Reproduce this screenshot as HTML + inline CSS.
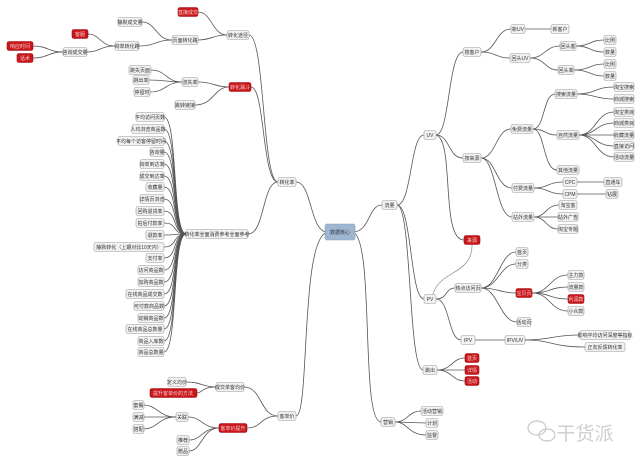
<!DOCTYPE html>
<html><head><meta charset="utf-8"><style>
html,body{margin:0;padding:0;background:#fff;}
svg{display:block;font-family:"Liberation Sans","Noto Sans CJK SC",sans-serif;}
.e path{fill:none;stroke:#555;stroke-width:0.8}
.n rect{fill:#f2f2f2;stroke:#9a9a9a;stroke-width:0.6}
.r rect{fill:#c9161b;stroke:#a01014;stroke-width:0.6}
text{font-size:5px;text-anchor:middle;fill:#333}
.r text{fill:#f5d0d0}
</style></head><body>
<svg width="640" height="464" viewBox="0 0 640 464" xmlns="http://www.w3.org/2000/svg">
<g class="e">
<!-- center -->
<path d="M327 232 C310 232 312 182 296 182"/>
<path d="M327 232 C300 240 310 416 296 416"/>
<path d="M353 232 C370 232 368 205 382 205"/>
<path d="M353 232 C375 240 360 422 381 422"/>
<!-- 转化率 -->
<path d="M278 182 C262 182 265 35 249 35"/>
<path d="M278 182 C262 182 265 87 251 87"/>
<path d="M278 182 C262 182 265 234 248 234"/>
<path d="M227 35 C212 35 212 12 198 12"/>
<path d="M227 35 C212 35 212 40 198 40"/>
<path d="M172 40 C156 40 156 22 142 22"/>
<path d="M172 40 C156 40 156 46 139 46"/>
<path d="M115 46 C100 46 100 34 88 34"/>
<path d="M115 46 C100 46 100 52 87 52"/>
<path d="M63 52 C48 52 48 46 33 46"/>
<path d="M63 52 C48 52 48 58 33 58"/>
<path d="M229 87 C214 87 214 82 198 82"/>
<path d="M229 87 C214 87 214 105 195 105"/>
<path d="M182 82 C166 82 166 70 151 70"/>
<path d="M182 82 C166 82 166 80 149 80"/>
<path d="M182 82 C166 82 166 92 150 92"/>
<path d="M186 234 C172 234 178 117 164 117"/><path d="M186 234 C172 234 178 129 164 129"/><path d="M186 234 C172 234 178 141 164 141"/><path d="M186 234 C172 234 178 152 164 152"/><path d="M186 234 C172 234 178 164 164 164"/><path d="M186 234 C172 234 178 176 164 176"/><path d="M186 234 C172 234 178 187 164 187"/><path d="M186 234 C172 234 178 199 164 199"/><path d="M186 234 C172 234 178 211 164 211"/><path d="M186 234 C172 234 178 223 164 223"/><path d="M186 234 C172 234 178 235 164 235"/><path d="M186 234 C172 234 178 247 164 247"/><path d="M186 234 C172 234 178 258 164 258"/><path d="M186 234 C172 234 178 270 164 270"/><path d="M186 234 C172 234 178 282 164 282"/><path d="M186 234 C172 234 178 294 164 294"/><path d="M186 234 C172 234 178 306 164 306"/><path d="M186 234 C172 234 178 318 164 318"/><path d="M186 234 C172 234 178 329 164 329"/><path d="M186 234 C172 234 178 341 164 341"/><path d="M186 234 C172 234 178 352 164 352"/>
<!-- 客单价 -->
<path d="M278 416 C260 416 262 387 244 387"/>
<path d="M278 416 C260 416 262 428 247 428"/>
<path d="M216 387 C202 387 202 382 186 382"/>
<path d="M216 387 C202 387 202 393 197 393"/>
<path d="M219 428 C202 428 202 417 188 417"/>
<path d="M219 428 C202 428 202 440 189 440"/>
<path d="M219 428 C202 428 202 451 189 451"/>
<path d="M176 417 C158 417 158 405 143 405"/>
<path d="M176 417 C158 417 158 417 143 417"/>
<path d="M176 417 C158 417 158 429 143 429"/>
<!-- 流量 -->
<path d="M397 205 C412 205 410 135 424 135"/>
<path d="M397 205 C412 205 410 299 424 299"/>
<path d="M397 205 C412 205 408 370 423 370"/>
<path d="M436 135 C450 135 448 52 463 52"/>
<path d="M436 135 C450 135 448 158 463 158"/>
<path d="M436 135 C455 140 440 240 464 240"/>
<path d="M472 245 C472 275 440 270 433 294" style="stroke:#999"/>
<path d="M481 52 C496 52 496 29 511 29"/>
<path d="M481 52 C496 52 496 58 510 58"/>
<path d="M525 29 L551 29"/>
<path d="M530 58 C545 58 545 46 560 46"/>
<path d="M530 58 C545 58 545 70 558 70"/>
<path d="M576 46 C590 46 590 40 604 40"/><path d="M576 46 C590 46 590 52 604 52"/>
<path d="M574 70 C590 70 590 64 604 64"/><path d="M574 70 C590 70 590 76 604 76"/>
<path d="M481 158 C496 158 496 129 511 129"/>
<path d="M481 158 C496 158 496 188 512 188"/>
<path d="M481 158 C496 158 496 217 512 217"/>
<path d="M533 129 C545 129 543 94 555 94"/>
<path d="M533 129 C545 129 545 135 557 135"/>
<path d="M533 129 C545 129 543 170 557 170"/>
<path d="M577 94 C595 94 595 87 614 87"/><path d="M577 94 C595 94 595 99 614 99"/>
<path d="M579 135 C596 135 596 112 614 112"/><path d="M579 135 C596 135 596 123 614 123"/><path d="M579 135 L614 135"/><path d="M579 135 C596 135 596 146 614 146"/><path d="M579 135 C596 135 596 157 614 157"/>
<path d="M534 188 C548 188 548 182 563 182"/><path d="M534 188 C548 188 548 194 563 194"/>
<path d="M577 182 L604 182"/><path d="M577 194 L606 194"/>
<path d="M534 217 C546 217 546 205 559 205"/><path d="M534 217 L558 217"/><path d="M534 217 C546 217 546 229 558 229"/>
<path d="M436 299 C448 299 445 288 455 288"/>
<path d="M436 299 C450 299 448 340 461 340"/>
<path d="M481 288 C498 288 500 252 516 252"/>
<path d="M481 288 C498 288 500 264 516 264"/>
<path d="M481 288 C498 288 500 293 516 293"/>
<path d="M481 288 C498 288 500 322 517 322"/>
<path d="M532 293 C550 293 550 275 568 275"/><path d="M532 293 C550 293 550 287 568 287"/><path d="M532 293 C550 293 550 299 568 299"/><path d="M532 293 C550 293 550 311 568 311"/>
<path d="M475 340 L505 340"/>
<path d="M525 340 C552 340 552 335 580 335"/><path d="M525 340 C552 340 552 347 585 347"/>
<path d="M437 370 C452 370 452 358 465 358"/><path d="M437 370 L465 370"/><path d="M437 370 C452 370 452 381 465 381"/>
<!-- 营销 -->
<path d="M395 422 C408 422 408 411 421 411"/><path d="M395 422 L426 423"/><path d="M395 422 C408 422 408 435 426 435"/>
</g>

<!-- center -->
<rect x="325" y="224" width="30" height="16" rx="2" fill="#9fb6d3" stroke="#8aa2c2" stroke-width="0.6"/>
<text x="340" y="234">数据核心</text>

<g class="n"><rect x="278" y="177.5" width="18" height="9" rx="2"/><text x="287" y="184">转化率</text></g>
<g class="n"><rect x="227" y="30.5" width="22" height="9" rx="2"/><text x="238" y="37">转化途径</text></g>
<g class="r"><rect x="178" y="7.5" width="20" height="9" rx="2"/><text x="188" y="14">直接成交</text></g>
<g class="n"><rect x="172" y="35.5" width="26" height="9" rx="2"/><text x="185" y="42">页面转化路</text></g>
<g class="n"><rect x="118" y="17.5" width="24" height="9" rx="2"/><text x="130" y="24">静默成交量</text></g>
<g class="n"><rect x="115" y="41.5" width="24" height="9" rx="2"/><text x="127" y="48">询单转化路</text></g>
<g class="r"><rect x="72" y="29.5" width="16" height="9" rx="2"/><text x="80" y="36">客服</text></g>
<g class="n"><rect x="63" y="47.5" width="24" height="9" rx="2"/><text x="75" y="54">咨询成交量</text></g>
<g class="r"><rect x="7" y="41.5" width="26" height="9" rx="2"/><text x="20" y="48">响应时间</text></g>
<g class="r"><rect x="17" y="53.5" width="16" height="9" rx="2"/><text x="25" y="60">话术</text></g>
<g class="r"><rect x="229" y="82.5" width="22" height="9" rx="2"/><text x="240" y="89">转化漏斗</text></g>
<g class="n"><rect x="182" y="77.5" width="16" height="9" rx="2"/><text x="190" y="84">流失率</text></g>
<g class="n"><rect x="129" y="65.5" width="22" height="9" rx="2"/><text x="140" y="72">跳失页面</text></g>
<g class="n"><rect x="133" y="75.5" width="16" height="9" rx="2"/><text x="141" y="82">跳出率</text></g>
<g class="n"><rect x="134" y="87.5" width="16" height="9" rx="2"/><text x="142" y="94">停留时</text></g>
<g class="n"><rect x="175" y="100.5" width="20" height="9" rx="2"/><text x="185" y="107">跳转链接</text></g>
<g class="n"><rect x="186" y="229.5" width="62" height="9" rx="2"/><text x="217" y="236">转化率全面消费参考全面参考</text></g>

<g class="n"><rect x="136" y="112.5" width="28" height="9" rx="2"/><text x="150" y="119">平均访问页数</text></g>
<g class="n"><rect x="132" y="124.5" width="32" height="9" rx="2"/><text x="148" y="131">人均浏览商品数</text></g>
<g class="n"><rect x="118" y="136.5" width="46" height="9" rx="2"/><text x="141" y="143">平均每个访客停留时间</text></g>
<g class="n"><rect x="150" y="147.5" width="14" height="9" rx="2"/><text x="157" y="154">咨询量</text></g>
<g class="n"><rect x="140" y="159.5" width="24" height="9" rx="2"/><text x="152" y="166">询单到达率</text></g>
<g class="n"><rect x="140" y="171.5" width="24" height="9" rx="2"/><text x="152" y="178">成交到达率</text></g>
<g class="n"><rect x="146" y="182.5" width="18" height="9" rx="2"/><text x="155" y="189">收藏量</text></g>
<g class="n"><rect x="140" y="194.5" width="24" height="9" rx="2"/><text x="152" y="201">详情页浏览</text></g>
<g class="n"><rect x="136" y="206.5" width="28" height="9" rx="2"/><text x="150" y="213">回购退货率</text></g>
<g class="n"><rect x="136" y="218.5" width="28" height="9" rx="2"/><text x="150" y="225">拍后付款率</text></g>
<g class="n"><rect x="146" y="230.5" width="18" height="9" rx="2"/><text x="155" y="237">退款率</text></g>
<g class="n"><rect x="94" y="242.5" width="70" height="9" rx="2"/><text x="129" y="249">静默转化（上期对比10天内）</text></g>
<g class="n"><rect x="146" y="253.5" width="18" height="9" rx="2"/><text x="155" y="260">支付率</text></g>
<g class="n"><rect x="138" y="265.5" width="26" height="9" rx="2"/><text x="151" y="272">访问商品数</text></g>
<g class="n"><rect x="138" y="277.5" width="26" height="9" rx="2"/><text x="151" y="284">加购商品数</text></g>
<g class="n"><rect x="126" y="289.5" width="38" height="9" rx="2"/><text x="145" y="296">在线商品成交数</text></g>
<g class="n"><rect x="134" y="301.5" width="30" height="9" rx="2"/><text x="149" y="308">可付款商品数</text></g>
<g class="n"><rect x="138" y="313.5" width="26" height="9" rx="2"/><text x="151" y="320">动销商品数</text></g>
<g class="n"><rect x="126" y="324.5" width="38" height="9" rx="2"/><text x="145" y="331">在线商品总数量</text></g>
<g class="n"><rect x="138" y="336.5" width="26" height="9" rx="2"/><text x="151" y="343">商品入库数</text></g>
<g class="n"><rect x="138" y="347.5" width="26" height="9" rx="2"/><text x="151" y="354">商品总数量</text></g>

<g class="n"><rect x="278" y="411.5" width="18" height="9" rx="2"/><text x="287" y="418">客单价</text></g>
<g class="n"><rect x="216" y="382.5" width="28" height="9" rx="2"/><text x="230" y="389">成交单客均价</text></g>
<g class="n"><rect x="168" y="377.5" width="18" height="9" rx="2"/><text x="177" y="384">定义均价</text></g>
<g class="r"><rect x="150" y="388.5" width="47" height="9" rx="2"/><text x="173" y="395">提升客单价的方法</text></g>
<g class="r"><rect x="219" y="423.5" width="28" height="9" rx="2"/><text x="233" y="430">客单价提升</text></g>
<g class="n"><rect x="176" y="412.5" width="12" height="9" rx="2"/><text x="182" y="419">关联</text></g>
<g class="n"><rect x="133" y="400.5" width="11" height="9" rx="2"/><text x="138.5" y="407">套餐</text></g>
<g class="n"><rect x="133" y="412.5" width="11" height="9" rx="2"/><text x="138.5" y="419">满减</text></g>
<g class="n"><rect x="133" y="424.5" width="11" height="9" rx="2"/><text x="138.5" y="431">搭配</text></g>
<g class="n"><rect x="177" y="435.5" width="12" height="9" rx="2"/><text x="183" y="442">推荐</text></g>
<g class="n"><rect x="177" y="446.5" width="12" height="9" rx="2"/><text x="183" y="453">赠品</text></g>

<g class="n"><rect x="382" y="200.5" width="15" height="9" rx="2"/><text x="389.5" y="207">流量</text></g>
<g class="n"><rect x="424" y="130.5" width="12" height="9" rx="2"/><text x="430" y="137">UV</text></g>
<g class="n"><rect x="463" y="47.5" width="18" height="9" rx="2"/><text x="472" y="54">按客户</text></g>
<g class="n"><rect x="511" y="24.5" width="14" height="9" rx="2"/><text x="518" y="31">新UV</text></g>
<g class="n"><rect x="551" y="24.5" width="18" height="9" rx="2"/><text x="560" y="31">新客户</text></g>
<g class="n"><rect x="510" y="53.5" width="20" height="9" rx="2"/><text x="520" y="60">回头UV</text></g>
<g class="n"><rect x="560" y="41.5" width="16" height="9" rx="2"/><text x="568" y="48">回头客</text></g>
<g class="n"><rect x="558" y="65.5" width="16" height="9" rx="2"/><text x="566" y="72">回头率</text></g>
<g class="n"><rect x="604" y="35.5" width="12" height="9" rx="2"/><text x="610" y="42">比例</text></g>
<g class="n"><rect x="604" y="47.5" width="12" height="9" rx="2"/><text x="610" y="54">数量</text></g>
<g class="n"><rect x="604" y="59.5" width="12" height="9" rx="2"/><text x="610" y="66">比例</text></g>
<g class="n"><rect x="604" y="71.5" width="12" height="9" rx="2"/><text x="610" y="78">数量</text></g>
<g class="n"><rect x="463" y="153.5" width="18" height="9" rx="2"/><text x="472" y="160">按来源</text></g>
<g class="n"><rect x="511" y="124.5" width="22" height="9" rx="2"/><text x="522" y="131">免费流量</text></g>
<g class="n"><rect x="555" y="89.5" width="22" height="9" rx="2"/><text x="566" y="96">搜索流量</text></g>
<g class="n"><rect x="614" y="82.5" width="20" height="9" rx="2"/><text x="624" y="89">淘宝搜索</text></g>
<g class="n"><rect x="614" y="94.5" width="20" height="9" rx="2"/><text x="624" y="101">商城搜索</text></g>
<g class="n"><rect x="557" y="130.5" width="22" height="9" rx="2"/><text x="568" y="137">自然流量</text></g>
<g class="n"><rect x="614" y="107.5" width="20" height="9" rx="2"/><text x="624" y="114">淘宝类目</text></g>
<g class="n"><rect x="614" y="118.5" width="20" height="9" rx="2"/><text x="624" y="125">商城类目</text></g>
<g class="n"><rect x="614" y="130.5" width="20" height="9" rx="2"/><text x="624" y="137">收藏流量</text></g>
<g class="n"><rect x="614" y="141.5" width="20" height="9" rx="2"/><text x="624" y="148">直接访问</text></g>
<g class="n"><rect x="614" y="152.5" width="20" height="9" rx="2"/><text x="624" y="159">活动流量</text></g>
<g class="n"><rect x="557" y="165.5" width="22" height="9" rx="2"/><text x="568" y="172">其他流量</text></g>
<g class="n"><rect x="512" y="183.5" width="22" height="9" rx="2"/><text x="523" y="190">付费流量</text></g>
<g class="n"><rect x="563" y="177.5" width="14" height="9" rx="2"/><text x="570" y="184">CPC</text></g>
<g class="n"><rect x="563" y="189.5" width="14" height="9" rx="2"/><text x="570" y="196">CPM</text></g>
<g class="n"><rect x="604" y="177.5" width="18" height="9" rx="2"/><text x="613" y="184">直通车</text></g>
<g class="n"><rect x="606" y="189.5" width="12" height="9" rx="2"/><text x="612" y="196">钻展</text></g>
<g class="n"><rect x="512" y="212.5" width="22" height="9" rx="2"/><text x="523" y="219">站外流量</text></g>
<g class="n"><rect x="559" y="200.5" width="18" height="9" rx="2"/><text x="568" y="207">淘宝客</text></g>
<g class="n"><rect x="558" y="212.5" width="20" height="9" rx="2"/><text x="568" y="219">站外广告</text></g>
<g class="n"><rect x="558" y="224.5" width="20" height="9" rx="2"/><text x="568" y="231">淘宝专题</text></g>
<g class="r"><rect x="464" y="235.5" width="16" height="9" rx="2"/><text x="472" y="242">来源</text></g>
<g class="n"><rect x="424" y="294.5" width="12" height="9" rx="2"/><text x="430" y="301">PV</text></g>
<g class="n"><rect x="455" y="283.5" width="26" height="9" rx="2"/><text x="468" y="290">热点访问页</text></g>
<g class="n"><rect x="516" y="247.5" width="12" height="9" rx="2"/><text x="522" y="254">首页</text></g>
<g class="n"><rect x="516" y="259.5" width="12" height="9" rx="2"/><text x="522" y="266">分类</text></g>
<g class="r"><rect x="516" y="288.5" width="16" height="9" rx="2"/><text x="524" y="295">宝贝页</text></g>
<g class="n"><rect x="517" y="317.5" width="14" height="9" rx="2"/><text x="524" y="324">活动页</text></g>
<g class="n"><rect x="568" y="270.5" width="16" height="9" rx="2"/><text x="576" y="277">主力款</text></g>
<g class="n"><rect x="568" y="282.5" width="16" height="9" rx="2"/><text x="576" y="289">流量款</text></g>
<g class="r"><rect x="568" y="294.5" width="16" height="9" rx="2"/><text x="576" y="301">利润款</text></g>
<g class="n"><rect x="568" y="306.5" width="16" height="9" rx="2"/><text x="576" y="313">小众款</text></g>
<g class="n"><rect x="461" y="335.5" width="14" height="9" rx="2"/><text x="468" y="342">IPV</text></g>
<g class="n"><rect x="505" y="335.5" width="20" height="9" rx="2"/><text x="515" y="342">IPV/UV</text></g>
<g class="n"><rect x="580" y="330.5" width="50" height="9" rx="2"/><text x="605" y="337">影响平均访问深度等指标</text></g>
<g class="n"><rect x="585" y="342.5" width="40" height="9" rx="2"/><text x="605" y="349">正向反馈转化率</text></g>
<g class="n"><rect x="423" y="365.5" width="14" height="9" rx="2"/><text x="430" y="372">跳出</text></g>
<g class="r"><rect x="465" y="353.5" width="14" height="9" rx="2"/><text x="472" y="360">首页</text></g>
<g class="r"><rect x="465" y="365.5" width="14" height="9" rx="2"/><text x="472" y="372">详情</text></g>
<g class="r"><rect x="465" y="376.5" width="14" height="9" rx="2"/><text x="472" y="383">活动</text></g>
<g class="n"><rect x="381" y="417.5" width="14" height="9" rx="2"/><text x="388" y="424">营销</text></g>
<g class="n"><rect x="421" y="406.5" width="22" height="9" rx="2"/><text x="432" y="413">活动营销</text></g>
<g class="n"><rect x="426" y="418.5" width="12" height="9" rx="2"/><text x="432" y="425">计划</text></g>
<g class="n"><rect x="426" y="430.5" width="12" height="9" rx="2"/><text x="432" y="437">监督</text></g>

<!-- watermark -->
<g fill="none" stroke="#c8c8c8" stroke-width="1.2">
<ellipse cx="537" cy="428" rx="9" ry="7"/>
<ellipse cx="547" cy="435" rx="8" ry="6"/>
</g>
<text x="585" y="440" style="font-size:19px;fill:#cfcfcf">干货派</text>
</svg>
</body></html>
